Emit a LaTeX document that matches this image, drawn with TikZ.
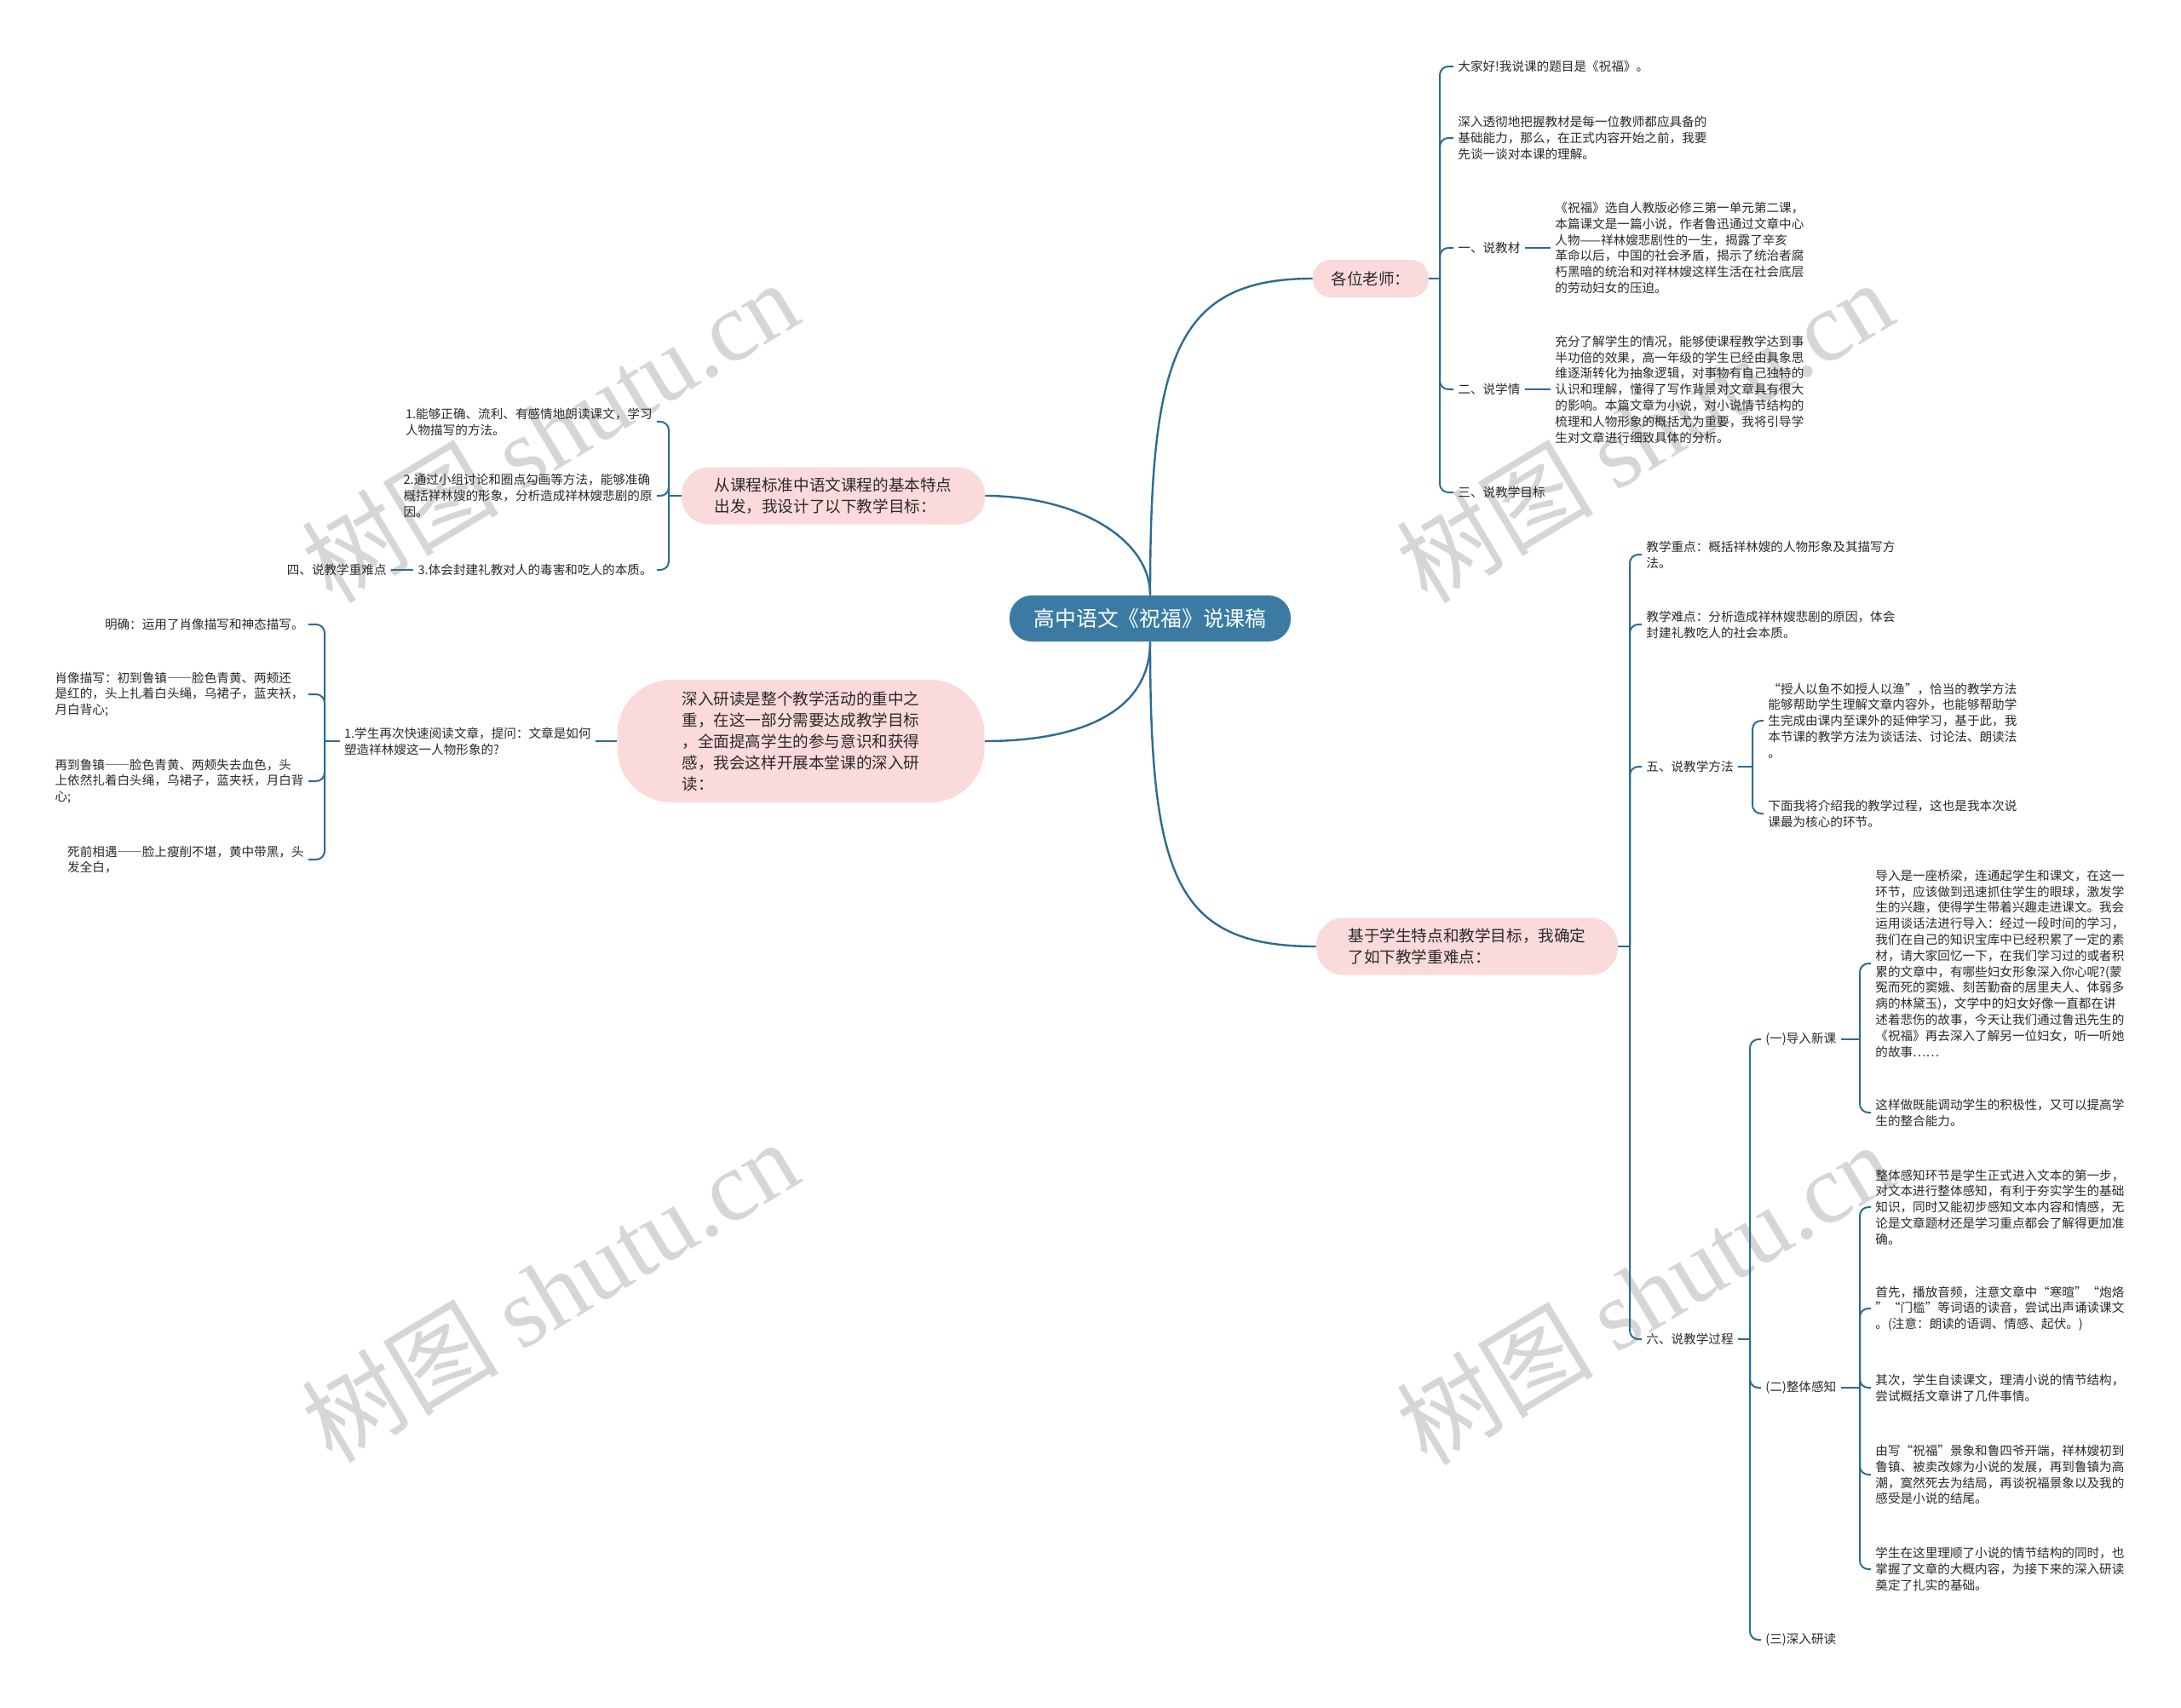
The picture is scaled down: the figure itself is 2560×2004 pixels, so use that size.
\documentclass[tikz,border=0pt]{standalone}
\usepackage{fontspec}
\setmainfont{Noto Sans CJK SC}
\newfontfamily\wmserif{Liberation Serif}
\newcommand{\fw}[1]{{\addfontfeature{RawFeature=+fwid}#1}}
\definecolor{linec}{HTML}{2E6B92}
\definecolor{rootc}{HTML}{3B7BA3}
\definecolor{pinkc}{HTML}{FADADA}
\definecolor{txtc}{HTML}{2A2A2A}
\definecolor{wmc}{HTML}{D6D6D6}
\begin{document}
\begin{tikzpicture}[x=0.5pt,y=-0.5pt,
 conn/.style={draw=linec,line width=1pt,rounded corners=5pt},
 mainc/.style={draw=linec,line width=1.2pt},
 rootbox/.style={fill=rootc,text=white,rounded corners=13pt,minimum width=165pt,minimum height=27pt,inner sep=0pt,font=\fontsize{12.4}{15}\selectfont},
 pinkbox/.style={fill=pinkc,text=txtc,align=left,inner sep=0pt,font=\fontsize{9.3}{12.5}\selectfont},
 leafR/.style={anchor=west,align=left,text=txtc,inner xsep=2.5pt,inner ysep=1pt,font=\fontsize{7.3}{9.4}\selectfont},
 leafL/.style={leafR,anchor=east},
 wm/.style={text=wmc,rotate=31,font=\fontsize{58}{60}\selectfont}
]
\fill[white] (0,0) rectangle (2560,2004);
\useasboundingbox (0,0) rectangle (2560,2004);

% watermarks
\node[wm] (w1) at (645,506) {树图 {\wmserif shutu.cn}};
\node[wm] (w2) at (645,1515) {树图 {\wmserif shutu.cn}};
\node[wm] (w3) at (1930,506) {树图 {\wmserif shutu.cn}};
\node[wm] (w4) at (1930,1518) {树图 {\wmserif shutu.cn}};

% root and main branches
\node[rootbox] (root) at (1350,726) {高中语文《祝福》说课稿};
\node[pinkbox,minimum width=68pt,minimum height=22pt,rounded corners=10.5pt] (p1) at (1609,327) {各位老师：};
\node[pinkbox,minimum width=177pt,minimum height=33.5pt,rounded corners=16pt] (p2) at (1722,1111) {基于学生特点和教学目标，我确定\\了如下教学重难点：};
\node[pinkbox,minimum width=178pt,minimum height=33.5pt,rounded corners=16pt] (p3) at (978,582) {从课程标准中语文课程的基本特点\\出发，我设计了以下教学目标：};
\node[pinkbox,minimum width=215.5pt,minimum height=72pt,rounded corners=32pt] (p4) at (940,870) {深入研读是整个教学活动的重中之\\重，在这一部分需要达成教学目标\\，全面提高学生的参与意识和获得\\感，我会这样开展本堂课的深入研\\读：};

\draw[mainc] (root.north) .. controls (1350,420) and (1379,327) .. (p1.west);
\draw[mainc] (root.south) .. controls (1350,1032) and (1380,1111) .. (p2.west);
\draw[mainc] (root.north) .. controls (1350,630) and (1260,582) .. (p3.east);
\draw[mainc] (root.south) .. controls (1350,840) and (1260,870) .. (p4.east);

% ---------- right upper: 各位老师
\node[leafR] (a1) at (1706,78) {大家好!我说课的题目是《祝福》。};
\node[leafR] (a2) at (1706,162) {深入透彻地把握教材是每一位教师都应具备的\\基础能力，那么，在正式内容开始之前，我要\\先谈一谈对本课的理解。};
\node[leafR] (a3) at (1706,291) {一、说教材};
\node[leafR] (a3t) at (1820,291) {《祝福》选自人教版必修三第一单元第二课，\\本篇课文是一篇小说，作者鲁迅通过文章中心\\人物——祥林嫂悲剧性的一生，揭露了辛亥\\革命以后，中国的社会矛盾，揭示了统治者腐\\朽黑暗的统治和对祥林嫂这样生活在社会底层\\的劳动妇女的压迫。};
\node[leafR] (a4) at (1706,457) {二、说学情};
\node[leafR] (a4t) at (1820,457) {充分了解学生的情况，能够使课程教学达到事\\半功倍的效果，高一年级的学生已经由具象思\\维逐渐转化为抽象逻辑，对事物有自己独特的\\认识和理解，懂得了写作背景对文章具有很大\\的影响。本篇文章为小说，对小说情节结构的\\梳理和人物形象的概括尤为重要，我将引导学\\生对文章进行细致具体的分析。};
\node[leafR] (a5) at (1706,578) {三、说教学目标};

\coordinate (s1) at (1690,327);
\draw[conn] (p1.east) -- (s1);
\foreach \n in {a1,a2,a3,a4,a5} \draw[conn] (s1) |- (\n.west);
\draw[conn] (a3.east) -- (a3t.west);
\draw[conn] (a4.east) -- (a4t.west);

% ---------- right lower: 基于学生特点
\node[leafR] (b1) at (1927,651) {教学重点：概括祥林嫂的人物形象及其描写方\\法。};
\node[leafR] (b2) at (1927,733) {教学难点：分析造成祥林嫂悲剧的原因，体会\\封建礼教吃人的社会本质。};
\node[leafR] (b3) at (1927,900) {五、说教学方法};
\node[leafR] (b4) at (1927,1572) {六、说教学过程};
\coordinate (s2) at (1913,1111);
\draw[conn] (p2.east) -- (s2);
\foreach \n in {b1,b2,b3,b4} \draw[conn] (s2) |- (\n.west);

\node[leafR] (c1) at (2070,846) {\fw{“}授人以鱼不如授人以渔\fw{”}，恰当的教学方法\\能够帮助学生理解文章内容外，也能够帮助学\\生完成由课内至课外的延伸学习，基于此，我\\本节课的教学方法为谈话法、讨论法、朗读法\\。};
\node[leafR] (c2) at (2070,955) {下面我将介绍我的教学过程，这也是我本次说\\课最为核心的环节。};
\coordinate (s3) at (2057,900);
\draw[conn] (b3.east) -- (s3);
\foreach \n in {c1,c2} \draw[conn] (s3) |- (\n.west);

\node[leafR] (d1) at (2067,1220) {(一)导入新课};
\node[leafR] (d2) at (2067,1629) {(二)整体感知};
\node[leafR] (d3) at (2067,1925) {(三)深入研读};
\coordinate (s4) at (2054,1572);
\draw[conn] (b4.east) -- (s4);
\foreach \n in {d1,d2,d3} \draw[conn] (s4) |- (\n.west);

\node[leafR] (e1) at (2196,1131) {导入是一座桥梁，连通起学生和课文，在这一\\环节，应该做到迅速抓住学生的眼球，激发学\\生的兴趣，使得学生带着兴趣走进课文。我会\\运用谈话法进行导入：经过一段时间的学习，\\我们在自己的知识宝库中已经积累了一定的素\\材，请大家回忆一下，在我们学习过的或者积\\累的文章中，有哪些妇女形象深入你心呢?(蒙\\冤而死的窦娥、刻苦勤奋的居里夫人、体弱多\\病的林黛玉)，文学中的妇女好像一直都在讲\\述着悲伤的故事，今天让我们通过鲁迅先生的\\《祝福》再去深入了解另一位妇女，听一听她\\的故事……};
\node[leafR] (e2) at (2196,1306) {这样做既能调动学生的积极性，又可以提高学\\生的整合能力。};
\coordinate (s5) at (2183,1220);
\draw[conn] (d1.east) -- (s5);
\foreach \n in {e1,e2} \draw[conn] (s5) |- (\n.west);

\node[leafR] (f1) at (2196,1417) {整体感知环节是学生正式进入文本的第一步，\\对文本进行整体感知，有利于夯实学生的基础\\知识，同时又能初步感知文本内容和情感，无\\论是文章题材还是学习重点都会了解得更加准\\确。};
\node[leafR] (f2) at (2196,1536) {首先，播放音频，注意文章中\fw{“}寒暄\fw{”}\fw{“}炮烙\\\fw{”}\fw{“}门槛\fw{”}等词语的读音，尝试出声诵读课文\\。(注意：朗读的语调、情感、起伏。)};
\node[leafR] (f3) at (2196,1629) {其次，学生自读课文，理清小说的情节结构，\\尝试概括文章讲了几件事情。};
\node[leafR] (f4) at (2196,1731) {由写\fw{“}祝福\fw{”}景象和鲁四爷开端，祥林嫂初到\\鲁镇、被卖改嫁为小说的发展，再到鲁镇为高\\潮，寞然死去为结局，再谈祝福景象以及我的\\感受是小说的结尾。};
\node[leafR] (f5) at (2196,1842) {学生在这里理顺了小说的情节结构的同时，也\\掌握了文章的大概内容，为接下来的深入研读\\奠定了扎实的基础。};
\coordinate (s6) at (2183,1629);
\draw[conn] (d2.east) -- (s6);
\foreach \n in {f1,f2,f3,f4,f5} \draw[conn] (s6) |- (\n.west);

% ---------- left upper: 从课程标准
\node[leafL] (g1) at (771,495) {1.能够正确、流利、有感情地朗读课文，学习\\人物描写的方法。};
\node[leafL] (g2) at (771,582) {2.通过小组讨论和圈点勾画等方法，能够准确\\概括祥林嫂的形象，分析造成祥林嫂悲剧的原\\因。};
\node[leafL] (g3) at (771,669) {3.体会封建礼教对人的毒害和吃人的本质。};
\node[leafL] (g4) at (459,669) {四、说教学重难点};
\coordinate (s7) at (785,582);
\draw[conn] (p3.west) -- (s7);
\foreach \n in {g1,g2,g3} \draw[conn] (s7) |- (\n.east);
\draw[conn] (g3.west) -- (g4.east);

% ---------- left lower: 深入研读
\node[leafL] (q1) at (699,870) {1.学生再次快速阅读文章，提问：文章是如何\\塑造祥林嫂这一人物形象的?};
\coordinate (s8) at (381,870);
\draw[conn] (p4.west) -- (q1.east);
\draw[conn] (q1.west) -- (s8);
\node[leafL] (r1) at (362,733) {明确：运用了肖像描写和神态描写。};
\node[leafL] (r2) at (362,815) {肖像描写：初到鲁镇\fw{——}脸色青黄、两颊还\\是红的，头上扎着白头绳，乌裙子，蓝夹袄，\\月白背心;};
\node[leafL] (r3) at (362,917) {再到鲁镇\fw{——}脸色青黄、两颊失去血色，头\\上依然扎着白头绳，乌裙子，蓝夹袄，月白背\\心;};
\node[leafL] (r4) at (362,1009) {死前相遇\fw{——}脸上瘦削不堪，黄中带黑，头\\发全白，};
\foreach \n in {r1,r2,r3,r4} \draw[conn] (s8) |- (\n.east);
\end{tikzpicture}
\end{document}
